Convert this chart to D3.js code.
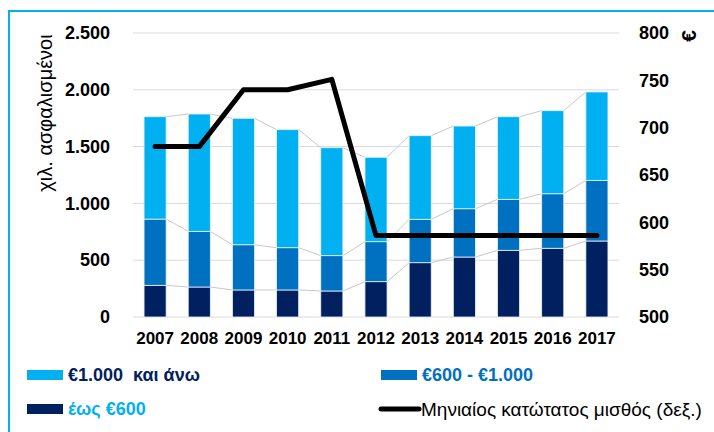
<!DOCTYPE html>
<html>
<head>
<meta charset="utf-8">
<script src="https://cdn.jsdelivr.net/npm/d3@7"></script>
<style>
  body { margin: 0; background: #fff; }
  svg { font-family: "Liberation Sans", Arial, sans-serif; }
</style>
</head>
<body>
<div id="chart"></div>
<script>
// chart data
let years = ["2007", "2008", "2009", "2010", "2011", "2012", "2013", "2014", "2015", "2016", "2017"];
let upTo600 = [279, 264, 238, 238, 229, 311, 478, 528, 587, 605, 669];
let from600To1000 = [583, 490, 398, 372, 311, 352, 382, 425, 449, 480, 534];
let over1000 = [901, 1033, 1113, 1039, 950, 743, 736, 728, 727, 731, 778];
let minWage = [680, 680, 740, 740, 751, 586, 586, 586, 586, 586, 586];
let leftTicks = [0, 500, 1000, 1500, 2000, 2500];
let rightTicks = [500, 550, 600, 650, 700, 750, 800];

let width = 714, height = 432;
let colors = { low: "#002060", mid: "#0070C0", high: "#00B0F0" };

let locale = d3.formatLocale({ decimal: ",", thousands: ".", grouping: [3], currency: ["", "€"] });
let fmt = locale.format(",");

let svg = d3.select("#chart")
    .append("svg")
    .attr("width", width)
    .attr("height", height);

// frame (top and left visible)
svg.append("path")
    .attr("d", "M9,432 L9,11 L714,11")
    .attr("fill", "none")
    .attr("stroke", "#00B0F0")
    .attr("stroke-width", 2);

let x = d3.scaleBand().domain(years).range([133, 619]).paddingInner(0.5).paddingOuter(0.25);
let yL = d3.scaleLinear().domain([0, 2500]).range([317, 33]);
let yR = d3.scaleLinear().domain([500, 800]).range([317, 33]);

// gridlines
svg.append("g")
    .selectAll("line")
    .data(leftTicks)
    .enter()
    .append("line")
    .attr("x1", 133)
    .attr("x2", 619)
    .attr("y1", d => yL(d))
    .attr("y2", d => yL(d))
    .attr("stroke", "#d9d9d9")
    .attr("stroke-width", 1);

// left axis
let leftAxis = svg.append("g")
    .attr("transform", "translate(110,0)")
    .call(d3.axisLeft(yL).tickValues(leftTicks).tickFormat(fmt).tickSize(0).tickPadding(0));
leftAxis.select(".domain").remove();
leftAxis.selectAll("text")
    .attr("font-family", "Liberation Sans, Arial, sans-serif")
    .attr("font-size", 18)
    .attr("font-weight", "bold")
    .attr("fill", "#000");

// right axis
let rightAxis = svg.append("g")
    .attr("transform", "translate(639,0)")
    .call(d3.axisRight(yR).tickValues(rightTicks).tickSize(0).tickPadding(0));
rightAxis.select(".domain").remove();
rightAxis.selectAll("text")
    .attr("font-family", "Liberation Sans, Arial, sans-serif")
    .attr("font-size", 18)
    .attr("font-weight", "bold")
    .attr("fill", "#000");

// x axis
let xAxis = svg.append("g")
    .attr("transform", "translate(0,326)")
    .call(d3.axisBottom(x).tickSize(0).tickPadding(0));
xAxis.select(".domain").remove();
xAxis.selectAll("text")
    .attr("font-family", "Liberation Sans, Arial, sans-serif")
    .attr("font-size", 17)
    .attr("font-weight", "bold")
    .attr("fill", "#000")
    .attr("dy", "1.05em");

// axis titles
svg.append("text")
    .attr("transform", "translate(52,113) rotate(-90)")
    .attr("text-anchor", "middle")
    .attr("font-size", 20)
    .attr("fill", "#000")
    .text("χιλ. ασφαλισμένοι");

svg.append("text")
    .attr("transform", "translate(696,36) rotate(-90)")
    .attr("text-anchor", "middle")
    .attr("font-size", 21)
    .attr("font-weight", "bold")
    .attr("fill", "#000")
    .text("€");

// stacked bars
let rows = years.map((yr, i) => ({ year: yr, low: upTo600[i], mid: from600To1000[i], high: over1000[i] }));
let stack = d3.stack().keys(["low", "mid", "high"]);
let series = stack(rows);

let bw = x.bandwidth();

// series lines between bars
series.forEach(s => {
    let segs = [];
    for (let i = 0; i < s.length - 1; i++) {
        segs.push([s[i], s[i + 1], i]);
    }
    svg.append("g")
        .selectAll("line")
        .data(segs)
        .enter()
        .append("line")
        .attr("x1", d => x(years[d[2]]) + bw)
        .attr("y1", d => yL(d[0][1]))
        .attr("x2", d => x(years[d[2] + 1]))
        .attr("y2", d => yL(d[1][1]))
        .attr("stroke", "#c8c8c8")
        .attr("stroke-width", 1);
});

svg.append("g")
    .selectAll("g")
    .data(series)
    .enter()
    .append("g")
    .attr("fill", d => colors[d.key])
    .selectAll("rect")
    .data(d => d)
    .enter()
    .append("rect")
    .attr("x", d => x(d.data.year))
    .attr("y", d => yL(d[1]))
    .attr("width", bw)
    .attr("height", d => yL(d[0]) - yL(d[1]))
    .attr("stroke", "#e8f2fa")
    .attr("stroke-width", 0.8);

// minimum wage line
let line = d3.line()
    .x((d, i) => x(years[i]) + bw / 2)
    .y(d => yR(d));

svg.append("path")
    .datum(minWage)
    .attr("d", line)
    .attr("fill", "none")
    .attr("stroke", "#000")
    .attr("stroke-width", 5)
    .attr("stroke-linejoin", "round")
    .attr("stroke-linecap", "round");

// legend
let legendItems = [
    { label: "€1.000  και άνω", color: colors.high, textColor: "#002060", x: 27, y: 375, type: "rect" },
    { label: "€600 - €1.000", color: colors.mid, textColor: "#0070C0", x: 381, y: 375, type: "rect" },
    { label: "έως €600", color: colors.low, textColor: "#00B0F0", x: 27, y: 409, type: "rect" },
    { label: "Μηνιαίος κατώτατος μισθός (δεξ.)", color: "#000", textColor: "#000", x: 379, y: 409, type: "line" }
];

let legend = svg.append("g");
legendItems.forEach(item => {
    let g = legend.append("g").attr("transform", "translate(" + item.x + "," + item.y + ")");
    if (item.type === "rect") {
        g.append("rect")
            .attr("x", 0)
            .attr("y", -5)
            .attr("width", 36)
            .attr("height", 10)
            .attr("fill", item.color);
        g.append("text")
            .attr("x", 41)
            .attr("y", 6)
            .attr("font-size", 18)
            .attr("font-weight", "bold")
            .attr("fill", item.textColor)
            .style("white-space", "pre")
            .text(item.label);
    } else {
        g.append("line")
            .attr("x1", 2)
            .attr("x2", 40)
            .attr("y1", 0)
            .attr("y2", 0)
            .attr("stroke", item.color)
            .attr("stroke-width", 5)
            .attr("stroke-linecap", "round");
        g.append("text")
            .attr("x", 42)
            .attr("y", 7)
            .attr("font-size", 19)
            .attr("fill", item.textColor)
            .text(item.label);
    }
});
</script>
</body>
</html>
